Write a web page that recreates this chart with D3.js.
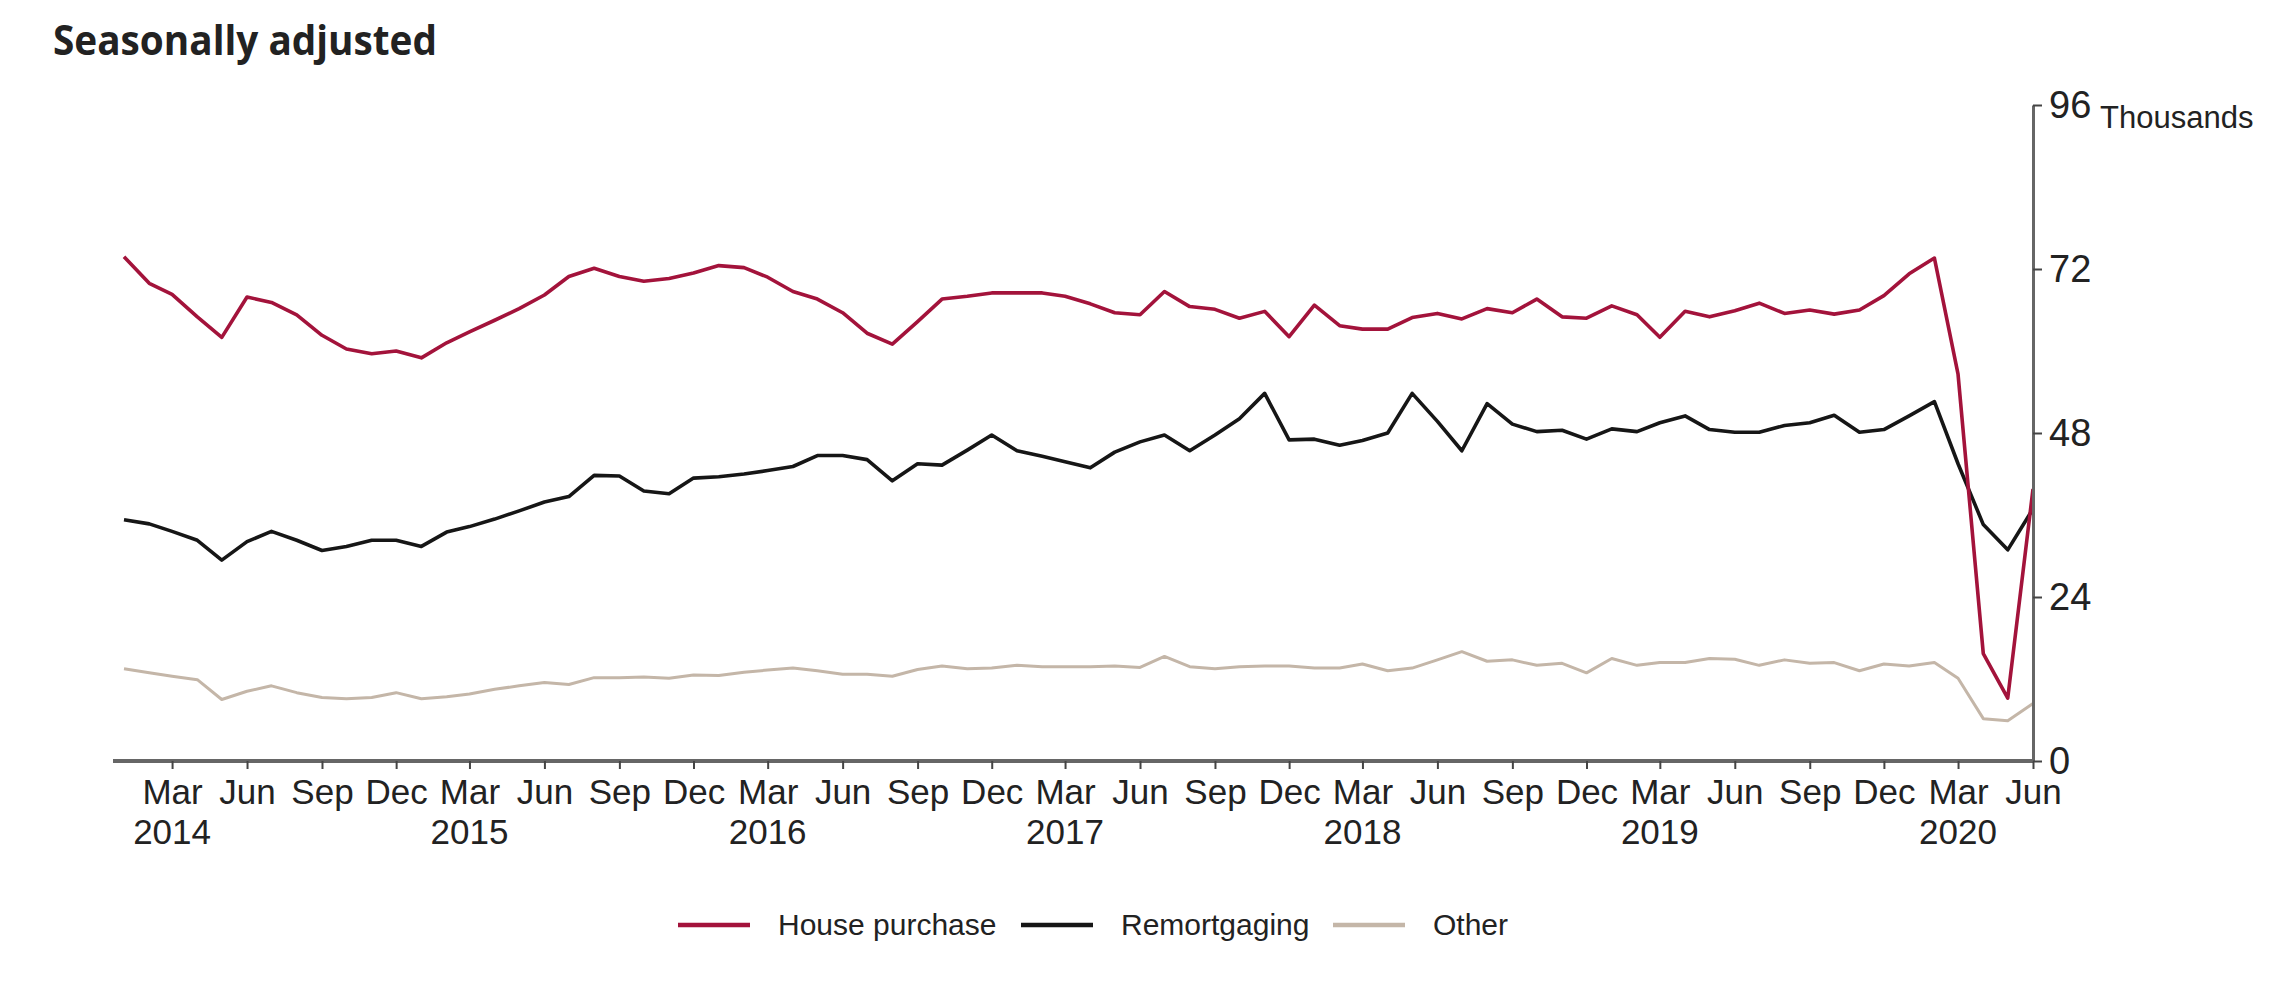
<!DOCTYPE html>
<html>
<head>
<meta charset="utf-8">
<script src="https://cdn.jsdelivr.net/npm/d3@7"></script>
<style>
  html, body { margin: 0; padding: 0; background: #fff; }
  svg text { font-family: "Liberation Sans", Arial, sans-serif; fill: #222; }
</style>
</head>
<body>
<svg width="2296" height="984"></svg>
<script>
// monthly, Jan 2014 .. Jun 2020 (thousands)
var startMonth = [2014, 0];
var housePurchase = [73.8, 69.9, 68.3, 65.0, 62.0, 67.9, 67.1, 65.3, 62.3, 60.3, 59.6, 60.0,
    59.0, 61.2, 62.8, 64.5, 66.2, 68.2, 70.9, 72.1, 70.9, 70.2, 70.6, 71.4,
    72.5, 72.2, 70.8, 68.7, 67.6, 65.6, 62.6, 61.0, 64.3, 67.6, 68.0, 68.5,
    68.5, 68.5, 68.0, 66.9, 65.6, 65.3, 68.7, 66.5, 66.1, 64.8, 65.8, 62.1,
    66.7, 63.7, 63.2, 63.2, 64.9, 65.5, 64.7, 66.2, 65.6, 67.6, 65.0, 64.8,
    66.6, 65.3, 62.0, 65.8, 65.0, 65.9, 67.0, 65.5, 66.0, 65.4, 66.0, 68.1,
    71.3, 73.6, 56.6, 15.7, 9.2, 39.8];
var remortgaging = [35.3, 34.7, 33.6, 32.3, 29.4, 32.1, 33.6, 32.3, 30.8, 31.4, 32.3, 32.3,
    31.4, 33.5, 34.3, 35.4, 36.6, 37.9, 38.7, 41.8, 41.7, 39.5, 39.1, 41.4,
    41.6, 42.0, 42.5, 43.1, 44.7, 44.7, 44.1, 41.0, 43.5, 43.3, 45.5, 47.7,
    45.4, 44.6, 43.8, 42.9, 45.2, 46.7, 47.7, 45.4, 47.7, 50.1, 53.8, 47.0,
    47.1, 46.2, 46.9, 48.0, 53.8, 49.7, 45.4, 52.3, 49.3, 48.2, 48.4, 47.1,
    48.6, 48.2, 49.5, 50.5, 48.5, 48.1, 48.1, 49.1, 49.5, 50.6, 48.1, 48.5,
    50.5, 52.6, 43.5, 34.6, 30.9, 36.9];
var other = [13.5, 12.9, 12.4, 11.9, 9.0, 10.2, 11.0, 10.0, 9.3, 9.1, 9.3, 10.0,
    9.1, 9.4, 9.8, 10.5, 11.0, 11.5, 11.2, 12.2, 12.2, 12.3, 12.1, 12.6,
    12.5, 13.0, 13.3, 13.6, 13.2, 12.7, 12.7, 12.4, 13.4, 13.9, 13.5, 13.6,
    14.0, 13.8, 13.8, 13.8, 13.9, 13.7, 15.3, 13.8, 13.5, 13.8, 13.9, 13.9,
    13.6, 13.6, 14.2, 13.2, 13.6, 14.8, 16.0, 14.6, 14.8, 14.0, 14.3, 12.9,
    15.0, 14.0, 14.4, 14.4, 15.0, 14.9, 14.0, 14.8, 14.3, 14.4, 13.2, 14.2,
    13.9, 14.4, 12.1, 6.2, 5.9, 8.4];
var monthNames = ["Jan", "Feb", "Mar", "Apr", "May", "Jun", "Jul", "Aug", "Sep", "Oct", "Nov", "Dec"];
var yTicks = [0, 24, 48, 72, 96];
var seriesNames = ["House purchase", "Remortgaging", "Other"];
var seriesColors = ["#a3133b", "#161616", "#c4b6a8"];

(function() {
    'use strict';
    var svg = d3.select("svg"),
        margin = {top: 105, right: 263, bottom: 223, left: 124},
        width = +svg.attr("width") - margin.left - margin.right,
        height = +svg.attr("height") - margin.top - margin.bottom,
        g = svg.append("g").attr("transform", "translate(" + margin.left + "," + margin.top + ")");

    var dates = housePurchase.map(function(d, i) {
        return new Date(startMonth[0], startMonth[1] + i, 1);
    });
    var x = d3.scaleTime().domain(d3.extent(dates)).range([0, width]),
        y = d3.scaleLinear().domain([0, 96]).range([height, 0]);

    // quarter ticks Mar, Jun, Sep, Dec
    var quarterTicks = dates.filter(function(d) { return d.getMonth() % 3 === 2; })
        .concat([dates[dates.length - 1]]);
    quarterTicks = quarterTicks.filter(function(d, i, a) {
        return a.findIndex(function(e) { return +e === +d; }) === i;
    });

    svg.append("text")
        .attr("x", 53)
        .attr("y", 55)
        .attr("font-family", "'Open Sans', 'Noto Sans', sans-serif")
        .attr("font-weight", "bold")
        .attr("font-size", 42)
        .attr("textLength", 384)
        .attr("lengthAdjust", "spacingAndGlyphs")
        .style("font-family", "'Open Sans', 'Noto Sans', sans-serif")
        .text("Seasonally adjusted");

    var line = d3.line()
        .x(function(d, i) { return x(dates[i]); })
        .y(function(d) { return y(d); });

    [other, remortgaging, housePurchase].forEach(function(s, k) {
        var c = seriesColors[2 - k];
        g.append("path")
            .datum(s)
            .attr("fill", "none")
            .attr("stroke", c)
            .attr("stroke-width", k === 0 ? 3 : 3.6)
            .attr("stroke-linejoin", "round")
            .attr("d", line);
    });

    // x axis
    var xa = g.append("g")
        .attr("transform", "translate(0," + height + ")")
        .call(d3.axisBottom(x)
            .tickValues(quarterTicks)
            .tickSize(8)
            .tickSizeOuter(0)
            .tickPadding(10)
            .tickFormat(function(d) { return monthNames[d.getMonth()]; }));
    xa.select(".domain")
        .attr("d", "M-11,0H" + width)
        .attr("stroke", "#666")
        .attr("stroke-width", 4);
    xa.selectAll(".tick line").attr("stroke", "#444").attr("stroke-width", 2);
    xa.selectAll(".tick text")
        .attr("font-size", 35)
        .attr("fill", "#222")
        .attr("font-family", null);

    xa.selectAll(".year")
        .data(quarterTicks.filter(function(d) { return d.getMonth() === 2; }))
        .enter().append("text")
        .attr("class", "year")
        .attr("x", function(d) { return x(d); })
        .attr("y", 83)
        .attr("text-anchor", "middle")
        .attr("font-size", 35)
        .attr("fill", "#222")
        .text(function(d) { return d.getFullYear(); });

    // y axis on the right
    var ya = g.append("g")
        .attr("transform", "translate(" + width + ",0)")
        .call(d3.axisRight(y)
            .tickValues(yTicks)
            .tickSize(9)
            .tickSizeOuter(0)
            .tickPadding(7));
    ya.select(".domain").attr("stroke", "#666").attr("stroke-width", 3);
    ya.selectAll(".tick line").attr("stroke", "#444").attr("stroke-width", 2);
    ya.selectAll(".tick text")
        .attr("font-size", 38)
        .attr("fill", "#222")
        .attr("font-family", null);

    svg.append("text")
        .attr("x", 2100)
        .attr("y", 128)
        .attr("font-size", 31)
        .text("Thousands");

    // legend
    var legendX = [678, 1021, 1333];
    var lg = svg.append("g").attr("transform", "translate(0,925)");
    seriesNames.forEach(function(n, i) {
        lg.append("line")
            .attr("x1", legendX[i]).attr("x2", legendX[i] + 72)
            .attr("y1", 0).attr("y2", 0)
            .attr("stroke", seriesColors[i])
            .attr("stroke-width", 4.5);
        lg.append("text")
            .attr("x", legendX[i] + 100)
            .attr("y", 10)
            .attr("font-size", 30)
            .text(n);
    });
})();
</script>
</body>
</html>
